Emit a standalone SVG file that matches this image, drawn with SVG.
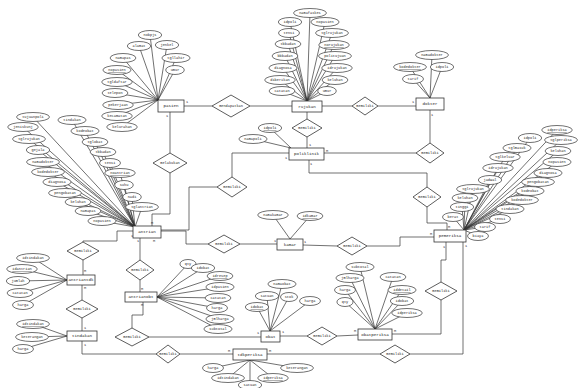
<svg xmlns="http://www.w3.org/2000/svg" width="579" height="388" viewBox="0 0 579 388">
<style>
.c line,.c polyline{stroke:#333;stroke-width:.7;fill:none}
.e rect{fill:#fff;stroke:#333;stroke-width:.8}
.a ellipse{fill:#fff;stroke:#333;stroke-width:.7}
.r polygon{fill:#fff;stroke:#333;stroke-width:.8}
text{font-family:"Liberation Mono",monospace;text-anchor:middle;dominant-baseline:central;fill:#222}
.a text{font-size:3.6px}
.e text{font-size:4.2px}
.r text{font-size:3.6px}
.k{font-size:3.6px}
.u{text-decoration:underline}
</style>
<rect width="579" height="388" fill="#fff"/>
<g id="connectors" class="c">
<polyline points="184,106 212,106"/><polyline points="250,106 292,106"/>
<polyline points="170,112 170,153"/><polyline points="170,173 170,214 152,214 152,226"/>
<polyline points="322,106 352,106"/><polyline points="378,106 416,106"/>
<polyline points="307,112 307,119"/><polyline points="307,137 307,148"/>
<polyline points="324,153 416,153"/><polyline points="430,143 430,110"/>
<polyline points="309,160 309,173 427,173 427,187"/><polyline points="427,207 427,223 447,223 447,230"/>
<polyline points="289,153 232,153 232,177"/><polyline points="217,187 189,187 189,230 161,230"/>
<polyline points="161,231 186,231 186,244 208,244"/><polyline points="240,244 277,244"/>
<polyline points="303,245 337,246"/><polyline points="367,246 400,246 400,237 434,237"/>
<polyline points="133,231 117,231 117,241 83,241 83,242"/><polyline points="83,260 83,275"/>
<polyline points="82,285 82,300"/><polyline points="82,318 82,331"/>
<polyline points="140,238 140,260"/><polyline points="140,280 140,292"/>
<polyline points="143,302 143,315 132,315 132,328"/><polyline points="149,337 261,337"/>
<polyline points="280,336 307,336"/><polyline points="337,336 358,335"/>
<polyline points="392,334 441,334 441,300"/><polyline points="441,282 441,260 446,260 446,242"/>
<polyline points="82,341 82,354 156,354"/><polyline points="180,354 233,354"/>
<polyline points="267,354 380,354"/><polyline points="410,354 463,354 463,242"/>
<line x1="150" y1="35" x2="158" y2="100"/><line x1="139" y1="46" x2="158" y2="100"/><line x1="167" y1="45" x2="158" y2="100"/><line x1="123" y1="58" x2="158" y2="100"/><line x1="176" y1="58" x2="158" y2="100"/><line x1="175" y1="70" x2="158" y2="100"/><line x1="117" y1="70" x2="158" y2="100"/><line x1="117" y1="82" x2="158" y2="100"/><line x1="115" y1="93" x2="158" y2="100"/><line x1="118" y1="105" x2="158" y2="100"/><line x1="117" y1="116" x2="158" y2="100"/><line x1="122" y1="127" x2="158" y2="100"/>
<line x1="310" y1="13" x2="307" y2="101"/><line x1="290" y1="22" x2="307" y2="101"/><line x1="289" y1="33" x2="307" y2="101"/><line x1="288" y1="44" x2="307" y2="101"/><line x1="285" y1="56" x2="307" y2="101"/><line x1="283" y1="68" x2="307" y2="101"/><line x1="280" y1="80" x2="307" y2="101"/><line x1="282" y1="91" x2="307" y2="101"/><line x1="325" y1="22" x2="307" y2="101"/><line x1="332" y1="33" x2="307" y2="101"/><line x1="334" y1="45" x2="307" y2="101"/><line x1="335" y1="56" x2="307" y2="101"/><line x1="337" y1="68" x2="307" y2="101"/><line x1="335" y1="80" x2="307" y2="101"/><line x1="327" y1="91" x2="307" y2="101"/>
<line x1="432" y1="55" x2="430" y2="98"/><line x1="410" y1="67" x2="430" y2="98"/><line x1="442" y1="67" x2="430" y2="98"/><line x1="413" y1="79" x2="430" y2="98"/>
<line x1="270" y1="128" x2="291" y2="148"/><line x1="253" y1="139" x2="291" y2="148"/>
<line x1="273" y1="215" x2="290" y2="239"/><line x1="310" y1="216" x2="290" y2="239"/>
<line x1="557" y1="130" x2="464" y2="230"/><line x1="561" y1="140" x2="464" y2="230"/><line x1="558" y1="151" x2="464" y2="230"/><line x1="557" y1="162" x2="464" y2="230"/><line x1="548" y1="173" x2="464" y2="230"/><line x1="538" y1="182" x2="464" y2="230"/><line x1="530" y1="191" x2="464" y2="230"/><line x1="522" y1="200" x2="464" y2="230"/><line x1="510" y1="209" x2="464" y2="230"/><line x1="500" y1="219" x2="464" y2="230"/><line x1="485" y1="227" x2="464" y2="230"/><line x1="478" y1="236" x2="464" y2="230"/><line x1="530" y1="138" x2="464" y2="230"/><line x1="517" y1="148" x2="464" y2="230"/><line x1="505" y1="157" x2="464" y2="230"/><line x1="498" y1="168" x2="464" y2="230"/><line x1="490" y1="180" x2="464" y2="230"/><line x1="473" y1="189" x2="464" y2="230"/><line x1="465" y1="198" x2="464" y2="230"/><line x1="462" y1="207" x2="464" y2="230"/><line x1="453" y1="217" x2="464" y2="230"/>
<line x1="33" y1="117" x2="135" y2="227"/><line x1="23" y1="127" x2="135" y2="227"/><line x1="29" y1="139" x2="135" y2="227"/><line x1="38" y1="150" x2="135" y2="227"/><line x1="43" y1="162" x2="135" y2="227"/><line x1="48" y1="172" x2="135" y2="227"/><line x1="57" y1="182" x2="135" y2="227"/><line x1="65" y1="193" x2="135" y2="227"/><line x1="78" y1="202" x2="135" y2="227"/><line x1="88" y1="211" x2="135" y2="227"/><line x1="102" y1="221" x2="135" y2="227"/><line x1="72" y1="120" x2="135" y2="227"/><line x1="85" y1="131" x2="135" y2="227"/><line x1="95" y1="142" x2="135" y2="227"/><line x1="103" y1="152" x2="135" y2="227"/><line x1="110" y1="163" x2="135" y2="227"/><line x1="120" y1="173" x2="135" y2="227"/><line x1="124" y1="185" x2="135" y2="227"/><line x1="132" y1="197" x2="135" y2="227"/><line x1="142" y1="207" x2="135" y2="227"/>
<line x1="33" y1="258" x2="67" y2="280"/><line x1="22" y1="269" x2="67" y2="280"/><line x1="18" y1="281" x2="67" y2="280"/><line x1="20" y1="293" x2="67" y2="280"/><line x1="23" y1="305" x2="67" y2="280"/>
<line x1="33" y1="324" x2="67" y2="336"/><line x1="32" y1="337" x2="67" y2="336"/><line x1="23" y1="349" x2="67" y2="336"/>
<line x1="188" y1="264" x2="157" y2="297"/><line x1="203" y1="268" x2="157" y2="297"/><line x1="220" y1="276" x2="157" y2="297"/><line x1="220" y1="287" x2="157" y2="297"/><line x1="218" y1="298" x2="157" y2="297"/><line x1="217" y1="308" x2="157" y2="297"/><line x1="220" y1="319" x2="157" y2="297"/><line x1="218" y1="329" x2="157" y2="297"/>
<line x1="282" y1="284" x2="270" y2="331"/><line x1="267" y1="296" x2="270" y2="331"/><line x1="257" y1="307" x2="270" y2="331"/><line x1="289" y1="297" x2="270" y2="331"/><line x1="310" y1="301" x2="270" y2="331"/>
<line x1="360" y1="267" x2="375" y2="329"/><line x1="350" y1="278" x2="375" y2="329"/><line x1="393" y1="277" x2="375" y2="329"/><line x1="345" y1="290" x2="375" y2="329"/><line x1="402" y1="290" x2="375" y2="329"/><line x1="345" y1="302" x2="375" y2="329"/><line x1="402" y1="301" x2="375" y2="329"/><line x1="407" y1="313" x2="375" y2="329"/>
<line x1="213" y1="368" x2="250" y2="360"/><line x1="228" y1="378" x2="250" y2="360"/><line x1="250" y1="385" x2="250" y2="360"/><line x1="273" y1="378" x2="250" y2="360"/><line x1="297" y1="368" x2="250" y2="360"/>
</g>
<g id="cardinalities" class="k">
<text class="k" x="187" y="102">1</text><text class="k" x="167" y="116">1</text>
<text class="k" x="413" y="102">1</text><text class="k" x="432" y="115">1</text>
<text class="k" x="310" y="145">1</text><text class="k" x="286" y="158">1</text><text class="k" x="327" y="151">M</text><text class="k" x="311" y="164">1</text>
<text class="k" x="152" y="223">M</text><text class="k" x="132" y="236">1</text><text class="k" x="138" y="241">1</text><text class="k" x="154" y="241">M</text>
<text class="k" x="85" y="271">M</text><text class="k" x="85" y="288">M</text>
<text class="k" x="85" y="328">1</text><text class="k" x="85" y="345">1</text>
<text class="k" x="142" y="289">M</text><text class="k" x="142" y="305">M</text>
<text class="k" x="258" y="333">1</text><text class="k" x="283" y="332">1</text>
<text class="k" x="355" y="331">M</text><text class="k" x="395" y="331">M</text>
<text class="k" x="229" y="351">M</text><text class="k" x="270" y="351">M</text>
<text class="k" x="431" y="234">M</text><text class="k" x="449" y="227">M</text><text class="k" x="444" y="247">1</text><text class="k" x="466" y="246">1</text>
<text class="k" x="275" y="241">1</text><text class="k" x="305" y="242">1</text>
</g>
<g id="e-pasien" class="e"><rect x="158" y="100" width="26" height="12"/><text x="171" y="106">pasien</text></g>
<g id="e-rujukan" class="e"><rect x="292" y="101" width="30" height="11"/><text x="307" y="106.5">rujukan</text></g>
<g id="e-dokter" class="e"><rect x="416" y="98" width="28" height="12"/><text x="430" y="104">dokter</text></g>
<g id="e-poliklinik" class="e"><rect x="289" y="148" width="35" height="12"/><text x="306.5" y="154">poliklinik</text></g>
<g id="e-antrian" class="e"><rect x="133" y="226" width="28" height="12"/><text x="147" y="232">antrian</text></g>
<g id="e-kamar" class="e"><rect x="277" y="239" width="26" height="11"/><text x="290" y="244.5">kamar</text></g>
<g id="e-pemeriksa" class="e"><rect x="434" y="230" width="32" height="12"/><text x="450" y="236">pemeriksa</text></g>
<g id="e-antriantdk" class="e"><rect x="67" y="275" width="28" height="10"/><text x="81" y="280">antriantdk</text></g>
<g id="e-antrianobt" class="e"><rect x="125" y="292" width="32" height="10"/><text x="141" y="297">antrianobt</text></g>
<g id="e-tindakan" class="e"><rect x="67" y="331" width="30" height="10"/><text x="82" y="336">tindakan</text></g>
<g id="e-obat" class="e"><rect x="261" y="331" width="19" height="11"/><text x="270.5" y="336.5">obat</text></g>
<g id="e-obatperiksa" class="e"><rect x="358" y="329" width="34" height="11"/><text x="375" y="334.5">obatperiksa</text></g>
<g id="e-tdkperiksa" class="e"><rect x="233" y="349" width="34" height="11"/><text x="250" y="354.5">tdkperiksa</text></g>
<g id="r-mendapatkan" class="r"><polygon points="212,106 231,95 250,106 231,117"/><text x="231" y="106">mendapatkan</text></g>
<g id="r-melakukan" class="r"><polygon points="153,163 170,153 187,163 170,173"/><text x="170" y="163">melakukan</text></g>
<g id="r-memiliki1" class="r"><polygon points="352,106 365,97 378,106 365,115"/><text x="365" y="106">memiliki</text></g>
<g id="r-memiliki2" class="r"><polygon points="292,128 307,119 322,128 307,137"/><text x="307" y="128">memiliki</text></g>
<g id="r-memiliki3" class="r"><polygon points="416,153 430,143 444,153 430,163"/><text x="430" y="153">memiliki</text></g>
<g id="r-memiliki4" class="r"><polygon points="413,197 427,187 441,197 427,207"/><text x="427" y="197">memiliki</text></g>
<g id="r-memiliki5" class="r"><polygon points="217,187 232,177 247,187 232,197"/><text x="232" y="187">memiliki</text></g>
<g id="r-memiliki6" class="r"><polygon points="208,244 224,235 240,244 224,253"/><text x="224" y="244">memiliki</text></g>
<g id="r-memiliki7" class="r"><polygon points="337,246 352,237 367,246 352,255"/><text x="352" y="246">memiliki</text></g>
<g id="r-memiliki8" class="r"><polygon points="67,251 83,242 99,251 83,260"/><text x="83" y="251">memiliki</text></g>
<g id="r-memiliki9" class="r"><polygon points="66,309 82,300 98,309 82,318"/><text x="82" y="309">memiliki</text></g>
<g id="r-memiliki10" class="r"><polygon points="126,270 140,260 154,270 140,280"/><text x="140" y="270">memiliki</text></g>
<g id="r-memiliki11" class="r"><polygon points="115,337 132,328 149,337 132,346"/><text x="132" y="337">memiliki</text></g>
<g id="r-memiliki12" class="r"><polygon points="307,336 322,327 337,336 322,345"/><text x="322" y="336">memiliki</text></g>
<g id="r-memiliki13" class="r"><polygon points="425,291 441,282 457,291 441,300"/><text x="441" y="291">memiliki</text></g>
<g id="r-memiliki14" class="r"><polygon points="156,354 168,345 180,354 168,363"/><text x="168" y="354">memiliki</text></g>
<g id="r-memiliki15" class="r"><polygon points="380,354 395,345 410,354 395,363"/><text x="395" y="354">memiliki</text></g>
<g id="attributes" class="a">
<g id="a-p1"><ellipse cx="150" cy="35" rx="11.7" ry="4.5"/><text x="150" y="35">nobpjs</text></g>
<g id="a-p2"><ellipse cx="139" cy="46" rx="11.7" ry="4.5"/><text x="139" y="46">alamat</text></g>
<g id="a-p3"><ellipse cx="167" cy="45" rx="11.7" ry="4.5"/><text x="167" y="45">jenkel</text></g>
<g id="a-p4"><ellipse cx="123" cy="58" rx="12.9" ry="4.5"/><text x="123" y="58">namapas</text></g>
<g id="a-p5"><ellipse cx="176" cy="58" rx="14.1" ry="4.5"/><text x="176" y="58">tgllahir</text></g>
<g id="a-p6"><ellipse cx="175" cy="70" rx="9.3" ry="4.5"/><text x="175" y="70">umur</text></g>
<g id="a-p7"><ellipse cx="117" cy="70" rx="14.1" ry="4.5"/><text class="u" x="117" y="70">nopasien</text></g>
<g id="a-p8"><ellipse cx="117" cy="82" rx="15.3" ry="4.5"/><text x="117" y="82">tgldaftar</text></g>
<g id="a-p9"><ellipse cx="115" cy="93" rx="12.9" ry="4.5"/><text x="115" y="93">telepon</text></g>
<g id="a-p10"><ellipse cx="118" cy="105" rx="15.3" ry="4.5"/><text x="118" y="105">pekerjaan</text></g>
<g id="a-p11"><ellipse cx="117" cy="116" rx="15.3" ry="4.5"/><text x="117" y="116">kecamatan</text></g>
<g id="a-p12"><ellipse cx="122" cy="127" rx="15.3" ry="4.5"/><text x="122" y="127">kelurahan</text></g>
<g id="a-r1"><ellipse cx="310" cy="13" rx="16.5" ry="4.5"/><text x="310" y="13">namafaskes</text></g>
<g id="a-r2"><ellipse cx="290" cy="22" rx="11.7" ry="4.5"/><text x="290" y="22">idpoli</text></g>
<g id="a-r3"><ellipse cx="289" cy="33" rx="10.5" ry="4.5"/><text x="289" y="33">tensi</text></g>
<g id="a-r4"><ellipse cx="288" cy="44" rx="12.9" ry="4.5"/><text x="288" y="44">tbbadan</text></g>
<g id="a-r5"><ellipse cx="285" cy="56" rx="12.9" ry="4.5"/><text x="285" y="56">bbbadan</text></g>
<g id="a-r6"><ellipse cx="283" cy="68" rx="14.1" ry="4.5"/><text x="283" y="68">diagnosa</text></g>
<g id="a-r7"><ellipse cx="280" cy="80" rx="15.3" ry="4.5"/><text x="280" y="80">diberikan</text></g>
<g id="a-r8"><ellipse cx="282" cy="91" rx="12.9" ry="4.5"/><text x="282" y="91">catatan</text></g>
<g id="a-r9"><ellipse cx="325" cy="22" rx="14.1" ry="4.5"/><text x="325" y="22">nopasien</text></g>
<g id="a-r10"><ellipse cx="332" cy="33" rx="16.5" ry="4.5"/><text x="332" y="33">tglrujukan</text></g>
<g id="a-r11"><ellipse cx="334" cy="45" rx="15.3" ry="4.5"/><text class="u" x="334" y="45">norujukan</text></g>
<g id="a-r12"><ellipse cx="335" cy="56" rx="16.5" ry="4.5"/><text x="335" y="56">politujuan</text></g>
<g id="a-r13"><ellipse cx="337" cy="68" rx="15.3" ry="4.5"/><text x="337" y="68">idrujukan</text></g>
<g id="a-r14"><ellipse cx="335" cy="80" rx="12.9" ry="4.5"/><text x="335" y="80">keluhan</text></g>
<g id="a-r15"><ellipse cx="327" cy="91" rx="9.3" ry="4.5"/><text x="327" y="91">umur</text></g>
<g id="a-d1"><ellipse cx="432" cy="55" rx="16.5" ry="4.5"/><text x="432" y="55">namadokter</text></g>
<g id="a-d2"><ellipse cx="410" cy="67" rx="16.5" ry="4.5"/><text class="u" x="410" y="67">kodedokter</text></g>
<g id="a-d3"><ellipse cx="442" cy="67" rx="11.7" ry="4.5"/><text x="442" y="67">idpoli</text></g>
<g id="a-d4"><ellipse cx="413" cy="79" rx="10.5" ry="4.5"/><text x="413" y="79">tarif</text></g>
<g id="a-k1"><ellipse cx="270" cy="128" rx="11.7" ry="4.5"/><text class="u" x="270" y="128">idpoli</text></g>
<g id="a-k2"><ellipse cx="253" cy="139" rx="14.1" ry="4.5"/><text x="253" y="139">namapoli</text></g>
<g id="a-m1"><ellipse cx="273" cy="215" rx="15.3" ry="4.5"/><text x="273" y="215">namakamar</text></g>
<g id="a-m2"><ellipse cx="310" cy="216" rx="12.9" ry="4.5"/><text class="u" x="310" y="216">idkamar</text></g>
<g id="a-e1"><ellipse cx="557" cy="130" rx="15.3" ry="4.5"/><text class="u" x="557" y="130">idperiksa</text></g>
<g id="a-e2"><ellipse cx="561" cy="140" rx="16.5" ry="4.5"/><text x="561" y="140">tglperiksa</text></g>
<g id="a-e3"><ellipse cx="558" cy="151" rx="12.9" ry="4.5"/><text x="558" y="151">keluhan</text></g>
<g id="a-e4"><ellipse cx="557" cy="162" rx="14.1" ry="4.5"/><text x="557" y="162">nopasien</text></g>
<g id="a-e5"><ellipse cx="548" cy="173" rx="14.1" ry="4.5"/><text x="548" y="173">diagnosa</text></g>
<g id="a-e6"><ellipse cx="538" cy="182" rx="16.5" ry="4.5"/><text x="538" y="182">pengobatan</text></g>
<g id="a-e7"><ellipse cx="530" cy="191" rx="14.1" ry="4.5"/><text x="530" y="191">kodeobat</text></g>
<g id="a-e8"><ellipse cx="522" cy="200" rx="16.5" ry="4.5"/><text x="522" y="200">kodedokter</text></g>
<g id="a-e9"><ellipse cx="510" cy="209" rx="14.1" ry="4.5"/><text x="510" y="209">tindakan</text></g>
<g id="a-e10"><ellipse cx="500" cy="219" rx="10.5" ry="4.5"/><text x="500" y="219">tensi</text></g>
<g id="a-e11"><ellipse cx="485" cy="227" rx="10.5" ry="4.5"/><text x="485" y="227">tarif</text></g>
<g id="a-e12"><ellipse cx="478" cy="236" rx="10.5" ry="4.5"/><text x="478" y="236">biaya</text></g>
<g id="a-e13"><ellipse cx="530" cy="138" rx="11.7" ry="4.5"/><text x="530" y="138">idpoli</text></g>
<g id="a-e14"><ellipse cx="517" cy="148" rx="14.1" ry="4.5"/><text x="517" y="148">tglmasuk</text></g>
<g id="a-e15"><ellipse cx="505" cy="157" rx="15.3" ry="4.5"/><text x="505" y="157">tglkeluar</text></g>
<g id="a-e16"><ellipse cx="498" cy="168" rx="15.3" ry="4.5"/><text x="498" y="168">idrujukan</text></g>
<g id="a-e17"><ellipse cx="490" cy="180" rx="11.7" ry="4.5"/><text x="490" y="180">jadwal</text></g>
<g id="a-e18"><ellipse cx="473" cy="189" rx="16.5" ry="4.5"/><text x="473" y="189">tglrujukan</text></g>
<g id="a-e19"><ellipse cx="465" cy="198" rx="12.9" ry="4.5"/><text x="465" y="198">keluhan</text></g>
<g id="a-e20"><ellipse cx="462" cy="207" rx="11.7" ry="4.5"/><text x="462" y="207">tinggi</text></g>
<g id="a-e21"><ellipse cx="453" cy="217" rx="10.5" ry="4.5"/><text x="453" y="217">berat</text></g>
<g id="a-n1"><ellipse cx="33" cy="117" rx="16.5" ry="4.5"/><text x="33" y="117">tujuanpoli</text></g>
<g id="a-n2"><ellipse cx="23" cy="127" rx="15.3" ry="4.5"/><text x="23" y="127">jeniskunj</text></g>
<g id="a-n3"><ellipse cx="29" cy="139" rx="16.5" ry="4.5"/><text x="29" y="139">tglrujukan</text></g>
<g id="a-n4"><ellipse cx="38" cy="150" rx="11.7" ry="4.5"/><text x="38" y="150">gejala</text></g>
<g id="a-n5"><ellipse cx="43" cy="162" rx="16.5" ry="4.5"/><text x="43" y="162">namadokter</text></g>
<g id="a-n6"><ellipse cx="48" cy="172" rx="16.5" ry="4.5"/><text x="48" y="172">kodedokter</text></g>
<g id="a-n7"><ellipse cx="57" cy="182" rx="14.1" ry="4.5"/><text x="57" y="182">diagnosa</text></g>
<g id="a-n8"><ellipse cx="65" cy="193" rx="16.5" ry="4.5"/><text x="65" y="193">pengobatan</text></g>
<g id="a-n9"><ellipse cx="78" cy="202" rx="12.9" ry="4.5"/><text x="78" y="202">keluhan</text></g>
<g id="a-n10"><ellipse cx="88" cy="211" rx="12.9" ry="4.5"/><text x="88" y="211">namapas</text></g>
<g id="a-n11"><ellipse cx="102" cy="221" rx="14.1" ry="4.5"/><text x="102" y="221">nopasien</text></g>
<g id="a-n12"><ellipse cx="72" cy="120" rx="14.1" ry="4.5"/><text x="72" y="120">tindakan</text></g>
<g id="a-n13"><ellipse cx="85" cy="131" rx="14.1" ry="4.5"/><text x="85" y="131">kodeobat</text></g>
<g id="a-n14"><ellipse cx="95" cy="142" rx="12.9" ry="4.5"/><text x="95" y="142">tglobat</text></g>
<g id="a-n15"><ellipse cx="103" cy="152" rx="12.9" ry="4.5"/><text x="103" y="152">tbbadan</text></g>
<g id="a-n16"><ellipse cx="110" cy="163" rx="10.5" ry="4.5"/><text x="110" y="163">tensi</text></g>
<g id="a-n17"><ellipse cx="120" cy="173" rx="15.3" ry="4.5"/><text class="u" x="120" y="173">noantrian</text></g>
<g id="a-n18"><ellipse cx="124" cy="185" rx="9.3" ry="4.5"/><text x="124" y="185">suhu</text></g>
<g id="a-n19"><ellipse cx="132" cy="197" rx="9.3" ry="4.5"/><text x="132" y="197">nadi</text></g>
<g id="a-n20"><ellipse cx="142" cy="207" rx="16.5" ry="4.5"/><text x="142" y="207">tglantrian</text></g>
<g id="a-t1"><ellipse cx="33" cy="258" rx="16.5" ry="4.5"/><text x="33" y="258">idtindakan</text></g>
<g id="a-t2"><ellipse cx="22" cy="269" rx="15.3" ry="4.5"/><text class="u" x="22" y="269">idantrian</text></g>
<g id="a-t3"><ellipse cx="18" cy="281" rx="11.7" ry="4.5"/><text x="18" y="281">jumlah</text></g>
<g id="a-t4"><ellipse cx="20" cy="293" rx="12.9" ry="4.5"/><text x="20" y="293">catatan</text></g>
<g id="a-t5"><ellipse cx="23" cy="305" rx="10.5" ry="4.5"/><text x="23" y="305">harga</text></g>
<g id="a-i1"><ellipse cx="33" cy="324" rx="16.5" ry="4.5"/><text class="u" x="33" y="324">idtindakan</text></g>
<g id="a-i2"><ellipse cx="32" cy="337" rx="16.5" ry="4.5"/><text x="32" y="337">keterangan</text></g>
<g id="a-i3"><ellipse cx="23" cy="349" rx="10.5" ry="4.5"/><text x="23" y="349">harga</text></g>
<g id="a-o1"><ellipse cx="188" cy="264" rx="8.1" ry="4.5"/><text x="188" y="264">qty</text></g>
<g id="a-o2"><ellipse cx="203" cy="268" rx="11.7" ry="4.5"/><text x="203" y="268">idobat</text></g>
<g id="a-o3"><ellipse cx="220" cy="276" rx="12.9" ry="4.5"/><text class="u" x="220" y="276">idresep</text></g>
<g id="a-o4"><ellipse cx="220" cy="287" rx="14.1" ry="4.5"/><text x="220" y="287">idpasien</text></g>
<g id="a-o5"><ellipse cx="218" cy="298" rx="12.9" ry="4.5"/><text x="218" y="298">catatan</text></g>
<g id="a-o6"><ellipse cx="217" cy="308" rx="10.5" ry="4.5"/><text x="217" y="308">harga</text></g>
<g id="a-o7"><ellipse cx="220" cy="319" rx="14.1" ry="4.5"/><text x="220" y="319">jmlharga</text></g>
<g id="a-o8"><ellipse cx="218" cy="329" rx="14.1" ry="4.5"/><text x="218" y="329">subtotal</text></g>
<g id="a-b1"><ellipse cx="282" cy="284" rx="14.1" ry="4.5"/><text x="282" y="284">namaobat</text></g>
<g id="a-b2"><ellipse cx="267" cy="296" rx="11.7" ry="4.5"/><text x="267" y="296">satuan</text></g>
<g id="a-b3"><ellipse cx="257" cy="307" rx="11.7" ry="4.5"/><text class="u" x="257" y="307">idobat</text></g>
<g id="a-b4"><ellipse cx="289" cy="297" rx="8.5" ry="4.5"/><text x="289" y="297">stok</text></g>
<g id="a-b5"><ellipse cx="310" cy="301" rx="10.5" ry="4.5"/><text x="310" y="301">harga</text></g>
<g id="a-q1"><ellipse cx="360" cy="267" rx="14.1" ry="4.5"/><text x="360" y="267">subtotal</text></g>
<g id="a-q2"><ellipse cx="350" cy="278" rx="14.1" ry="4.5"/><text x="350" y="278">jmlharga</text></g>
<g id="a-q3"><ellipse cx="393" cy="277" rx="12.9" ry="4.5"/><text x="393" y="277">catatan</text></g>
<g id="a-q4"><ellipse cx="345" cy="290" rx="10.5" ry="4.5"/><text x="345" y="290">harga</text></g>
<g id="a-q5"><ellipse cx="402" cy="290" rx="14.1" ry="4.5"/><text class="u" x="402" y="290">iddetail</text></g>
<g id="a-q6"><ellipse cx="345" cy="302" rx="8.1" ry="4.5"/><text x="345" y="302">qty</text></g>
<g id="a-q7"><ellipse cx="402" cy="301" rx="11.7" ry="4.5"/><text x="402" y="301">idobat</text></g>
<g id="a-q8"><ellipse cx="407" cy="313" rx="15.3" ry="4.5"/><text x="407" y="313">idperiksa</text></g>
<g id="a-s1"><ellipse cx="213" cy="368" rx="10.5" ry="4.5"/><text x="213" y="368">harga</text></g>
<g id="a-s2"><ellipse cx="228" cy="378" rx="16.5" ry="4.5"/><text x="228" y="378">idtindakan</text></g>
<g id="a-s5"><ellipse cx="297" cy="368" rx="16.5" ry="4.5"/><text x="297" y="368">keterangan</text></g>
<g id="a-s4"><ellipse cx="273" cy="378" rx="15.3" ry="4.5"/><text class="u" x="273" y="378">idperiksa</text></g>
<g id="a-s3"><ellipse cx="250" cy="385" rx="11.7" ry="4.5"/><text x="250" y="385">satuan</text></g>
</g>
</svg>
